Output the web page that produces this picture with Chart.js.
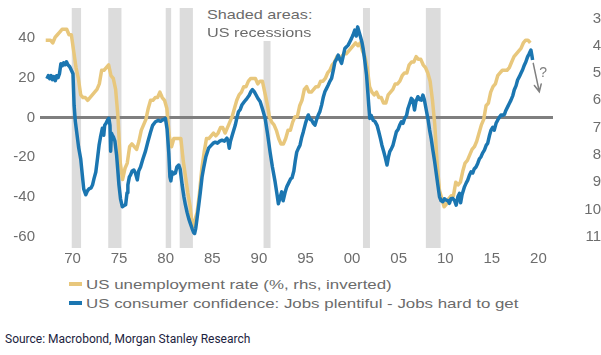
<!DOCTYPE html>
<html><head><meta charset="utf-8">
<script src="https://cdn.jsdelivr.net/npm/chart.js@4.4.0/dist/chart.umd.min.js"></script>
<style>
html,body{margin:0;padding:0;background:#fff;width:601px;height:355px;overflow:hidden;font-family:"Liberation Sans",Arial,sans-serif}
#wrap{position:absolute;left:0;top:0;width:601px;height:272px}
#note{position:absolute;left:203px;top:0;width:118px;height:41px;background:#fff}
#note span{position:absolute;left:4px;color:#6b6b6b;font-size:13.5px;line-height:18px;white-space:nowrap;transform:scaleX(1.2);transform-origin:0 50%}
.row{position:absolute;left:69px;height:19px;width:520px}
.row .sw{position:absolute;left:0;top:7.5px;width:13.4px;height:4px}
.row .tx{position:absolute;left:17.4px;top:0;line-height:19px;font-size:13.5px;color:#6b6b6b;white-space:nowrap;transform:scaleX(1.25);transform-origin:0 50%}
#source{position:absolute;left:5px;top:332px;font-family:Roboto,"Liberation Sans",sans-serif;font-size:12px;color:#1c2340;white-space:nowrap}
</style></head>
<body>
<div id="wrap"><canvas id="c" width="601" height="272"></canvas></div>
<div id="note"><span style="top:6px">Shaded areas:</span><span style="top:24px">US recessions</span></div>
<div id="legend"></div>
<div id="source">Source: Macrobond, Morgan Stanley Research</div>
<script>
// ---- data ----
const seriesNames = ["US unemployment rate (%, rhs, inverted)", "US consumer confidence: Jobs plentiful - Jobs hard to get"];
const seriesColors = ["#e8c77c", "#1b76b1"];

// US unemployment rate, quarterly, first value = 1967 Q1
const unempStart = 1967.125;
const unempStep = 0.25;
const unemployment = [
 3.8,3.8,3.8,3.9,
 3.7,3.6,3.5,3.4,
 3.4,3.4,3.6,3.6,
 4.2,4.8,5.2,5.8,
 5.9,5.9,6.0,5.9,
 5.8,5.7,5.6,5.4,
 4.9,4.9,4.8,4.7,
 5.1,5.2,5.6,6.6,
 8.3,8.9,8.5,8.3,
 7.7,7.6,7.7,7.8,
 7.5,7.1,6.9,6.7,
 6.3,6.0,6.0,5.9,
 5.9,5.7,5.9,6.0,
 6.3,7.3,7.7,7.4,
 7.4,7.4,7.4,8.2,
 8.8,9.4,9.9,10.7,
 10.4,10.1,9.4,8.5,
 7.9,7.4,7.4,7.3,
 7.2,7.3,7.2,7.0,
 7.0,7.2,7.0,6.8,
 6.6,6.3,6.0,5.8,
 5.7,5.5,5.5,5.3,
 5.2,5.2,5.2,5.4,
 5.3,5.3,5.7,6.1,
 6.6,6.8,6.9,7.1,
 7.4,7.6,7.6,7.4,
 7.1,7.1,6.8,6.6,
 6.6,6.2,6.0,5.6,
 5.5,5.7,5.7,5.6,
 5.5,5.5,5.3,5.3,
 5.2,5.0,4.9,4.7,
 4.6,4.4,4.5,4.4,
 4.3,4.3,4.2,4.1,
 4.0,3.9,4.0,3.9,
 4.2,4.4,4.8,5.5,
 5.7,5.8,5.7,5.9,
 5.9,6.1,6.1,5.8,
 5.7,5.6,5.4,5.4,
 5.3,5.1,5.0,5.0,
 4.7,4.6,4.6,4.4,
 4.5,4.5,4.7,4.8,
 5.0,5.3,6.0,6.9,
 8.3,9.3,9.6,9.9,
 9.8,9.6,9.5,9.5,
 9.0,9.1,9.0,8.6,
 8.3,8.2,8.0,7.8,
 7.7,7.5,7.2,6.9,
 6.7,6.2,6.1,5.7,
 5.5,5.4,5.1,5.0,
 4.9,4.9,4.9,4.8,
 4.6,4.4,4.3,4.2,
 4.1,3.9,3.8,3.8,
 3.9
];

// Consumer confidence labour differential: [year, value]
const confYears = [
 1967.25,1967.4,1967.55,1967.7,1967.85,1968.0,1968.15,1968.3,1968.45,1968.6,1968.75,1968.9,1969.05,1969.2,1969.35,1969.5,1969.7,1969.9,
 1970.05,1970.17,1970.3,1970.45,1970.65,1970.88,1971.05,1971.2,1971.42,1971.6,1971.77,1972.0,1972.15,1972.3,1972.5,1972.7,1972.85,
 1973.0,1973.2,1973.35,1973.45,1973.6,1973.75,1973.9,1974.02,1974.09,1974.18,1974.27,1974.4,1974.55,1974.73,1974.85,1974.98,
 1975.15,1975.34,1975.5,1975.7,1975.85,1975.94,1976.1,1976.23,1976.4,1976.58,1976.75,1976.95,1977.1,1977.3,1977.55,1977.83,
 1978.1,1978.37,1978.6,1978.9,1979.2,1979.45,1979.62,1979.8,1979.97,1980.15,1980.33,1980.45,1980.55,1980.69,1980.85,
 1981.04,1981.2,1981.4,1981.55,1981.76,1981.95,1982.11,1982.3,1982.47,1982.65,1982.83,1983.0,1983.1,1983.22,1983.36,1983.55,
 1983.72,1983.9,1984.07,1984.3,1984.6,1984.9,1985.1,1985.32,1985.55,1985.8,1986.04,1986.3,1986.57,1986.7,1986.82,1986.95,
 1987.2,1987.46,1987.65,1987.81,1988.0,1988.17,1988.45,1988.71,1988.95,1989.15,1989.31,1989.5,1989.67,1989.9,1990.13,1990.4,
 1990.67,1990.95,1991.2,1991.45,1991.74,1991.95,1992.09,1992.3,1992.45,1992.6,1992.8,1992.99,1993.2,1993.4,1993.55,1993.75,
 1993.9,1994.06,1994.25,1994.41,1994.6,1994.77,1995.0,1995.2,1995.3,1995.5,1995.66,1995.85,1996.02,1996.2,1996.37,1996.55,
 1996.73,1996.9,1997.09,1997.25,1997.44,1997.6,1997.8,1998.0,1998.16,1998.35,1998.51,1998.7,1998.87,1999.05,1999.23,1999.4,
 1999.58,1999.75,1999.94,2000.1,2000.29,2000.45,2000.6,2000.75,2000.9,2001.05,2001.18,2001.35,2001.55,2001.7,2001.79,2001.9,
 2002.05,2002.25,2002.45,2002.68,2002.85,2003.04,2003.2,2003.4,2003.55,2003.75,2003.9,2004.04,2004.2,2004.39,2004.55,2004.75,
 2004.95,2005.1,2005.29,2005.46,2005.64,2005.85,2006.0,2006.18,2006.36,2006.53,2006.7,2006.85,2007.06,2007.25,2007.43,2007.6,
 2007.75,2007.96,2008.15,2008.32,2008.5,2008.67,2008.85,2009.03,2009.2,2009.38,2009.55,2009.74,2009.9,2010.1,2010.3,2010.45,
 2010.6,2010.8,2011.0,2011.17,2011.35,2011.52,2011.65,2011.8,2012.06,2012.25,2012.41,2012.6,2012.77,2012.95,2013.1,2013.3,
 2013.48,2013.65,2013.84,2014.0,2014.2,2014.4,2014.55,2014.75,2014.91,2015.1,2015.25,2015.45,2015.62,2015.8,2015.98,2016.15,
 2016.35,2016.5,2016.69,2016.87,2017.05,2017.25,2017.4,2017.6,2017.76,2017.95,2018.12,2018.3,2018.48,2018.65,2018.83,2019.0,
 2019.19,2019.3,2019.37
];
const confidence = [
 19.5,21,19.5,21,19,20.5,18.5,21,20,22,27,26,27.5,26.5,28,26.5,25.5,23.5,
 22,6,-2,-7.5,-15,-21,-29,-36,-39,-37,-36,-35.5,-34,-31,-27.5,-20,-14,
 -10,-5.5,-9,-4,-3,-1.5,-0.5,-4,-17,-8,-9,-10,-12,-19,-26,-34,
 -41,-45,-44.5,-44,-38,-34,-30,-29,-27,-26.5,-28,-31.5,-27,-25,-21,-17,
 -12,-7.5,-4,-2.2,-1.5,-2,-1.4,-1,-0.5,-6,-18,-30,-32,-27.5,-28.5,
 -28,-25,-24,-26,-34,-40,-44,-48,-51,-53.5,-56,-58,-58.5,-56,-51,-44,
 -37.5,-30,-25.5,-20,-15.5,-14,-13,-12.5,-13,-12,-11.5,-12,-10.5,-12,-15.5,-12,
 -8,-4,0,2.8,4,6.2,8,9.5,11,13,14,13,11.5,9.5,8,4,
 -0.5,-9,-17.5,-25,-32.5,-39,-43.5,-40,-37.5,-42,-38,-35,-33,-31,-30.5,-27,
 -22,-17.5,-15.5,-14,-10,-7.2,-3,0,1.2,-1,-1.4,-3,-3.9,-1,1.2,3,
 6.2,10,13,14.5,16.3,18,19.6,24,28,29.5,31.4,29,27.2,31,34.8,35.5,
 36.4,38,39.8,41.5,44,41,45.6,43,40.6,38,34.8,29,21.3,12,6,-0.5,
 1,-1.4,-2,-4,-7,-10.6,-14,-17.3,-20,-24,-20,-17.3,-16,-14,-11,-7.3,
 -6,-4,-2.2,-3,-0.5,1,4.5,7,9.6,8.7,3.7,8,10.4,9,8.7,11.2,
 9,3.7,-1,-6.4,-11,-16.5,-22,-28.2,-34,-40,-42,-42.5,-41,-41.7,-42,-43.3,
 -41,-40.8,-42,-44.2,-40,-38.3,-43,-39,-35,-33,-31.6,-29,-27.4,-28,-26,-25,
 -23.2,-21,-19.8,-18,-16.5,-14,-13.1,-9,-6.4,-5,-6.5,-3,-1.4,0,1.2,1,
 1.5,3.5,5.3,7,8.7,11,13.8,16,18.8,20.5,22.2,24,26.3,28,30.5,32,
 33.9,31,28.9
];

// NBER recessions (start, end) in decimal years
const recessionStarts = [1969.917, 1973.833, 1980.0, 1981.5, 1990.5, 2001.167, 2007.917];
const recessionEnds   = [1970.917, 1975.25, 1980.583, 1982.917, 1991.25, 2001.917, 2009.5];

// axis ticks
const xTickYears  = [1970,1975,1980,1985,1990,1995,2000,2005,2010,2015,2020];
const xTickLabels = ["70","75","80","85","90","95","00","05","10","15","20"];
const leftTicks  = [-60,-40,-20,0,20,40];
const rightTicks = [3,4,5,6,7,8,9,10,11];

// annotation arrow (data units: year, left-axis value)
const arrowFrom = [2019.44, 27.2];
const arrowTo   = [2020.09, 12.9];
const arrowLabelPos = [2020.5, 22.5];

// ---- build ----
const unempData = unemployment.map((v,i)=>({x: unempStart + i*unempStep, y: v}));
const confData = confidence.map((v,i)=>({x: confYears[i], y: v}));

const shadePlugin = {
  id:'shade',
  beforeDraw(chart){
    const {ctx, chartArea:a, scales:{x}} = chart;
    ctx.save(); ctx.fillStyle='#dcdcdc';
    recessionStarts.forEach((s,i)=>{
      const x0=x.getPixelForValue(s), x1=x.getPixelForValue(recessionEnds[i]);
      ctx.fillRect(x0, a.top, x1-x0, a.bottom-a.top);
    });
    ctx.restore();
  }
};
const arrowPlugin = {
  id:'arrow',
  afterDatasetsDraw(chart){
    const {ctx, scales:{x, yL}} = chart;
    const x0=x.getPixelForValue(arrowFrom[0]), y0=yL.getPixelForValue(arrowFrom[1]);
    const x1=x.getPixelForValue(arrowTo[0]), y1=yL.getPixelForValue(arrowTo[1]);
    const ang=Math.atan2(y1-y0,x1-x0), L=8, sp=0.45;
    ctx.save();
    ctx.strokeStyle='#808080'; ctx.lineWidth=1.5; ctx.lineCap='round';
    ctx.beginPath(); ctx.moveTo(x0,y0); ctx.lineTo(x1,y1);
    ctx.moveTo(x1-L*Math.cos(ang-sp), y1-L*Math.sin(ang-sp)); ctx.lineTo(x1,y1);
    ctx.lineTo(x1-L*Math.cos(ang+sp), y1-L*Math.sin(ang+sp));
    ctx.stroke();
    ctx.fillStyle='#808080'; ctx.font='14px "Liberation Sans", Arial, sans-serif';
    ctx.textAlign='center'; ctx.textBaseline='middle';
    ctx.fillText('?', x.getPixelForValue(arrowLabelPos[0]), yL.getPixelForValue(arrowLabelPos[1]));
    ctx.restore();
  }
};

Chart.defaults.font.family = '"Liberation Sans", Arial, sans-serif';
Chart.defaults.font.size = 15;
Chart.defaults.color = '#6d6d6d';

new Chart(document.getElementById('c'), {
  type:'line',
  data:{ datasets:[
    {label:seriesNames[0], data:unempData, yAxisID:'yR', borderColor:seriesColors[0], borderWidth:3.5, pointRadius:0, tension:0, borderJoinStyle:'round', order:2},
    {label:seriesNames[1], data:confData, yAxisID:'yL', borderColor:seriesColors[1], borderWidth:3.5, pointRadius:0, tension:0, borderJoinStyle:'round', order:1}
  ]},
  options:{
    responsive:false, animation:false, devicePixelRatio:1,
    layout:{padding:{top:8,left:0,right:0,bottom:0}},
    plugins:{legend:{display:false}, tooltip:{enabled:false}},
    scales:{
      x:{type:'linear', min:1966.51, max:2021.56,
         grid:{display:false, drawTicks:false}, border:{display:false},
         ticks:{padding:2, autoSkip:false, maxRotation:0,
           callback:(v)=>{const i=xTickYears.indexOf(v); return i>=0?xTickLabels[i]:'';}},
         afterBuildTicks:(s)=>{s.ticks=xTickYears.map(v=>({value:v}));},
         afterFit:(s)=>{s.height=24; s.paddingLeft=0; s.paddingRight=0;}},
      yL:{type:'linear', position:'left', min:-65.8, max:55.1,
         grid:{drawTicks:false, color:(c)=>c.tick && c.tick.value===0?'#7f7f7f':'rgba(0,0,0,0)', lineWidth:(c)=>c.tick && c.tick.value===0?3:0},
         border:{display:false},
         ticks:{padding:5},
         afterBuildTicks:(s)=>{s.ticks=leftTicks.map(v=>({value:v}));},
         afterFit:(s)=>{s.width=40; s.paddingTop=0; s.paddingBottom=0;}},
      yR:{type:'linear', position:'right', reverse:true, min:2.62, max:11.41,
         grid:{display:false, drawTicks:false}, border:{display:false},
         ticks:{padding:5, crossAlign:'far'},
         afterBuildTicks:(s)=>{s.ticks=rightTicks.map(v=>({value:v}));},
         afterFit:(s)=>{s.width=48; s.paddingTop=0; s.paddingBottom=0;}}
    }
  },
  plugins:[shadePlugin, arrowPlugin]
});

// legend (HTML)
const lg=document.getElementById('legend');
const rowTops=[274.5, 293.5];
seriesNames.forEach((n,i)=>{
  const d=document.createElement('div'); d.className='row'; d.style.top=rowTops[i]+'px';
  const sw=document.createElement('span'); sw.className='sw'; sw.style.background=seriesColors[i];
  const tx=document.createElement('span'); tx.className='tx'; tx.textContent=n;
  d.appendChild(sw); d.appendChild(tx); lg.appendChild(d);
});
</script>
</body></html>
